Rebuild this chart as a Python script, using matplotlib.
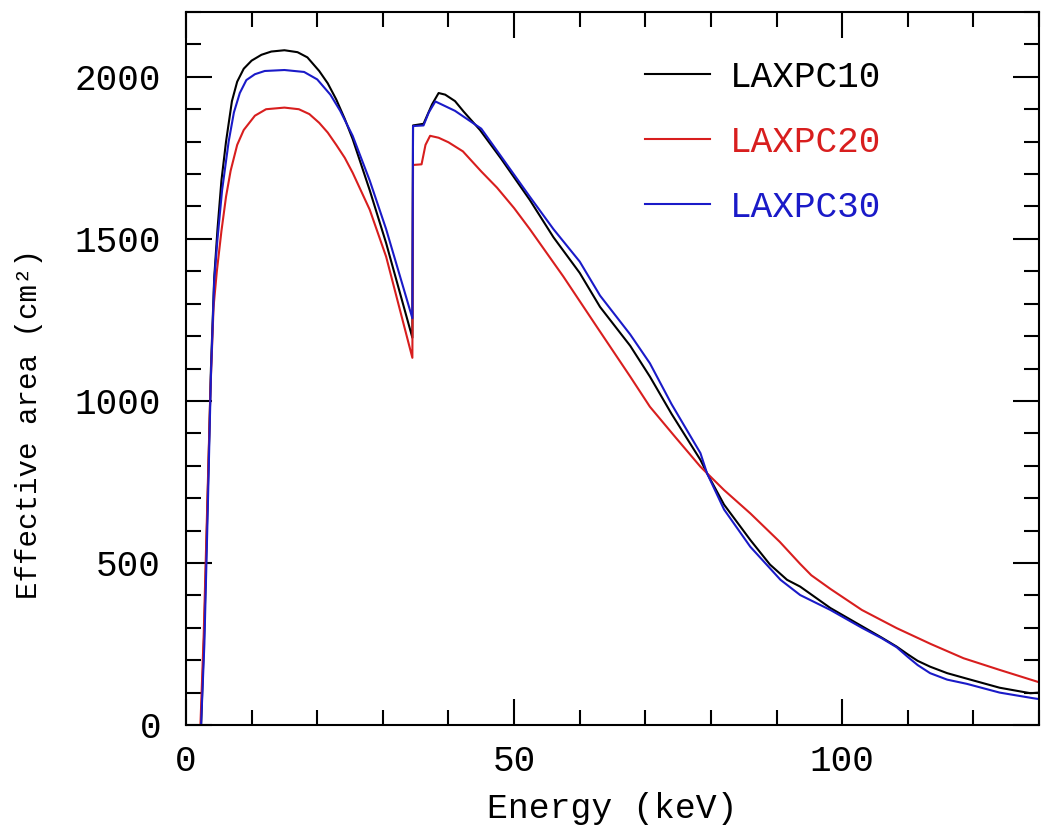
import matplotlib
matplotlib.use("Agg")
import matplotlib.pyplot as plt
from matplotlib.ticker import MultipleLocator

plt.rcParams['font.family'] = ['Liberation Mono', 'DejaVu Sans Mono']

# effective area curves (keV, cm^2); Xe K-edge jump near 34.6 keV
e_10 = [2.3, 2.8, 3.3, 3.8, 4.3, 4.8, 5.4, 6.1, 7.0, 7.8, 8.8, 10, 11.5, 13, 15, 17,
        18.5, 20.3, 21.6, 22.9, 24.2, 25.4, 28, 30.5, 34.5, 34.6, 36.2, 37.5, 38.5,
        39.5, 41, 42.3, 44.8, 48, 52.4, 56, 60, 63.1, 67.7, 70.7, 74, 78.4, 79.4, 82,
        86, 89, 91.6, 93.6, 98.2, 103, 106, 108.3, 110, 111.5, 113.4, 116, 119, 124,
        128.7, 130]
a_10 = [0, 300, 700, 1100, 1380, 1530, 1680, 1800, 1925, 1985, 2025, 2050, 2068, 2078,
        2082, 2076, 2060, 2018, 1980, 1930, 1870, 1808, 1650, 1487, 1195, 1850, 1855,
        1915, 1950, 1945, 1925, 1893, 1836, 1748, 1620, 1505, 1395, 1290, 1170, 1075,
        960, 818, 777, 680, 571, 495, 448, 427, 361, 305, 270, 242, 218, 198, 180, 160,
        143, 115, 98, 100]

e_20 = [2.2, 2.7, 3.2, 3.7, 4.2, 4.7, 5.4, 6.1, 6.8, 7.8, 8.8, 10.5, 12.2, 15, 17.2,
        18.8, 20.3, 21.6, 22.9, 24.2, 25.4, 28, 30.5, 34.5, 34.6, 35.9, 36.5, 37.2,
        38.5, 40, 42.2, 45, 47.4, 50, 52.4, 57.5, 62.6, 67.7, 70.7, 74.5, 78.4, 82, 86,
        90.5, 93.6, 95.3, 98.2, 103, 108.3, 113.5, 118.5, 124, 130]
a_20 = [0, 280, 650, 1020, 1290, 1400, 1524, 1630, 1710, 1790, 1836, 1880, 1900, 1905,
        1900, 1885, 1858, 1828, 1790, 1750, 1704, 1590, 1445, 1133, 1728, 1730, 1790,
        1818, 1812, 1798, 1770, 1708, 1658, 1595, 1530, 1384, 1229, 1075, 982, 890,
        797, 725, 653, 565, 497, 462, 420, 355, 299, 250, 206, 170, 132]

e_30 = [2.3, 2.8, 3.3, 3.8, 4.3, 4.8, 5.5, 6.5, 7.3, 8.2, 9.2, 10.5, 12, 15, 18, 20,
        22, 23.5, 25.4, 28, 30.5, 34.5, 34.6, 36.2, 37, 38, 41, 45, 48, 52.4, 56, 60,
        63.1, 67.7, 70.7, 74, 78.4, 79.4, 82, 86, 90.6, 93.6, 98.2, 103, 106, 108.3,
        110, 111.5, 113.4, 116, 119, 124, 129, 130]
a_30 = [0, 250, 650, 1080, 1370, 1500, 1650, 1800, 1890, 1950, 1990, 2008, 2018, 2021,
        2015, 1992, 1945, 1895, 1818, 1680, 1530, 1255, 1848, 1850, 1890, 1924, 1895,
        1840, 1755, 1630, 1530, 1430, 1325, 1205, 1116, 990, 839, 777, 665, 550, 448,
        401, 355, 300, 268, 240, 210, 185, 160, 140, 127, 100, 83, 80]

labels = ['LAXPC10', 'LAXPC20', 'LAXPC30']
colors = ['black', '#d81e1e', '#1a1ac8']

fig = plt.figure(figsize=(10.41, 8.34), dpi=100)
ax = fig.add_axes([186/1041, 109/834, 853/1041, 713/834])

for x, y, lab, c in zip([e_10, e_20, e_30], [a_10, a_20, a_30], labels, colors):
    ax.plot(x, y, color=c, lw=1.5, label=lab)

ax.set_xlim(0, 130)
ax.set_ylim(0, 2200)
ax.xaxis.set_major_locator(MultipleLocator(50))
ax.xaxis.set_minor_locator(MultipleLocator(10))
ax.yaxis.set_major_locator(MultipleLocator(500))
ax.yaxis.set_minor_locator(MultipleLocator(100))

for s in ax.spines.values():
    s.set_linewidth(1.5)
ax.tick_params(which='both', direction='in', top=True, right=True, width=1.5)
ax.tick_params(which='major', length=19, labelsize=26)
ax.tick_params(axis='x', which='major', pad=14)
ax.tick_params(axis='y', which='major', pad=18)
ax.tick_params(which='minor', length=10.5)

ax.set_xlabel('Energy (keV)', fontsize=25, labelpad=9)
ax.set_ylabel('Effective area (cm²)', fontsize=21)
ax.yaxis.set_label_coords(-0.168, 0.422)

ax.legend(frameon=False, loc='upper left', bbox_to_anchor=(0.538, 0.9325),
          fontsize=26, handlelength=1.8, handletextpad=0.55, labelspacing=0.83,
          borderaxespad=0, borderpad=0, labelcolor='linecolor')

plt.savefig('out.png', dpi=100)
